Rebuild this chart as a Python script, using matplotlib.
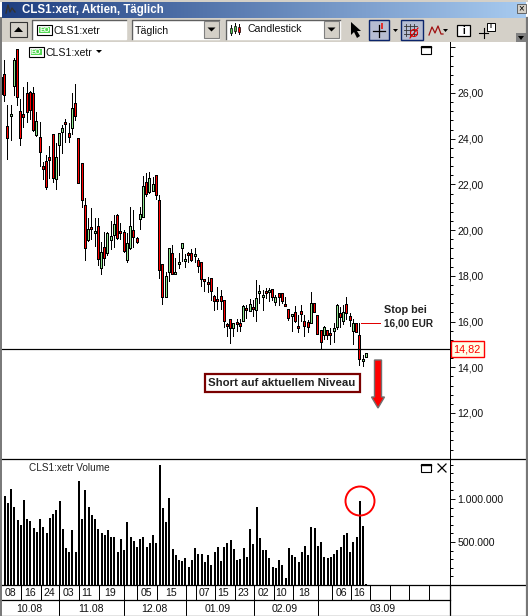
import numpy as np
import matplotlib
matplotlib.use("Agg")
import matplotlib.pyplot as plt
from matplotlib.patches import Rectangle, Circle, Polygon
from matplotlib.ticker import FixedLocator, FuncFormatter

plt.rcParams['font.family'] = ['Liberation Sans', 'DejaVu Sans']

W, H = 528, 616

# daily candles, the first one is only half inside the pane
highs = [26.72, 27.45, 25.48, 25.48, 27.53, 27.93, 25.73, 26.28, 26.50, 26.10, 26.28, 25.19, 24.72, 23.00, 23.29,
         23.68, 24.19, 23.80, 24.24, 24.60, 24.85, 24.68, 25.99, 26.40, 24.02, 22.93, 21.40, 20.52, 20.96, 20.52,
         20.52, 19.50, 19.94, 19.94, 20.38, 20.67, 20.71, 20.30, 20.01, 19.87, 21.03, 20.89, 19.72, 21.03, 22.37,
         22.52, 22.56, 22.34, 22.42, 21.54, 18.51, 18.19, 19.21, 19.35, 18.80, 18.99, 19.43, 18.94, 19.06, 19.18,
         19.21, 18.77, 18.60, 17.85, 17.97, 17.90, 17.17, 17.53, 17.38, 16.93, 15.93, 16.10, 15.93, 16.12, 16.12,
         16.73, 16.73, 16.99, 16.95, 17.82, 17.60, 17.38, 17.46, 17.46, 17.41, 17.17, 17.27, 17.27, 17.09, 16.54,
         16.32, 16.70, 16.29, 16.73, 16.29, 16.07, 17.28, 16.80, 16.28, 15.61, 15.81, 15.64, 15.71, 15.92, 16.77,
         16.62, 16.73, 17.09, 16.36, 16.10, 15.95, 15.92, 14.54, 14.61]
body_tops = [26.72, 26.82, 24.56, 25.08, 27.45, 27.93, 25.22, 25.08, 25.99, 26.06, 25.99, 24.78, 24.06, 22.81, 23.04,
             23.22, 24.19, 23.19, 24.24, 24.46, 24.73, 24.24, 25.33, 25.55, 24.02, 22.93, 21.08, 20.04, 20.11, 19.95,
             20.19, 19.03, 19.25, 19.87, 19.76, 20.26, 20.67, 19.98, 19.94, 19.43, 20.19, 20.01, 19.65, 20.71, 21.91,
             22.12, 22.27, 22.02, 22.40, 21.32, 18.51, 17.99, 19.21, 18.99, 18.16, 18.61, 19.43, 18.73, 18.99, 18.99,
             18.94, 18.68, 18.60, 17.85, 17.72, 17.90, 17.12, 16.98, 17.12, 16.93, 15.88, 16.10, 15.93, 15.97, 15.93,
             16.69, 16.58, 16.76, 16.63, 17.02, 17.34, 17.17, 17.33, 17.37, 17.41, 17.06, 17.27, 17.27, 16.76, 16.54,
             16.32, 16.41, 15.80, 16.45, 16.04, 16.00, 16.80, 16.80, 16.28, 15.61, 15.75, 15.64, 15.49, 15.71, 16.73,
             16.38, 16.44, 16.77, 16.25, 15.95, 15.95, 15.41, 14.38, 14.61]
body_bots = [25.91, 25.89, 23.98, 24.97, 26.28, 25.77, 23.98, 24.92, 25.11, 25.23, 24.35, 24.14, 23.39, 22.61, 21.86,
             23.04, 22.23, 22.20, 23.66, 24.24, 24.62, 24.01, 24.41, 24.97, 22.01, 21.29, 19.17, 19.54, 20.01, 19.85,
             18.70, 18.29, 18.73, 18.96, 19.53, 19.76, 19.62, 19.81, 19.03, 18.63, 19.17, 19.65, 19.43, 20.45, 20.52,
             21.54, 21.61, 21.69, 21.50, 18.23, 17.02, 17.02, 18.11, 18.04, 18.07, 18.49, 19.16, 18.62, 18.89, 18.67,
             18.84, 18.38, 17.82, 17.76, 17.63, 17.28, 16.85, 16.85, 16.85, 15.96, 15.80, 15.66, 15.66, 15.88, 15.78,
             16.00, 16.45, 16.44, 16.52, 16.48, 17.22, 17.01, 17.22, 17.28, 17.02, 16.83, 17.02, 16.87, 16.66, 16.13,
             16.22, 16.00, 15.71, 16.28, 15.75, 15.71, 15.88, 16.39, 15.43, 15.08, 15.39, 15.37, 15.41, 15.53, 15.74,
             16.14, 15.97, 16.32, 16.03, 15.53, 15.49, 14.32, 14.25, 14.39]
lows = [25.91, 25.62, 23.07, 23.92, 25.87, 25.43, 23.68, 24.46, 24.70, 24.82, 24.31, 24.09, 22.78, 22.20, 21.76,
        22.23, 22.05, 21.76, 22.37, 23.33, 23.80, 23.80, 24.17, 24.79, 22.01, 20.99, 18.67, 19.50, 19.57, 19.28,
        18.41, 18.04, 18.41, 18.87, 19.14, 19.21, 19.57, 19.57, 18.99, 18.55, 19.14, 19.21, 19.40, 20.01, 20.52,
        21.47, 21.57, 21.69, 21.32, 17.87, 16.73, 17.02, 17.71, 18.04, 18.04, 18.30, 18.62, 18.36, 18.55, 18.60,
        18.55, 18.11, 17.53, 17.31, 17.24, 16.92, 16.48, 16.51, 16.51, 15.74, 15.34, 15.04, 15.34, 15.56, 15.53,
        16.00, 16.12, 16.41, 16.22, 16.00, 16.77, 16.48, 16.98, 16.87, 16.92, 16.70, 16.66, 16.77, 16.66, 16.04,
        15.56, 15.93, 15.52, 16.00, 15.34, 15.52, 15.88, 16.39, 15.43, 14.79, 15.20, 15.20, 14.98, 15.05, 15.63,
        15.71, 15.85, 16.07, 15.78, 14.98, 15.49, 14.06, 14.03, 14.39]
falling = [1, 1, 1, 0, 0, 1, 1, 1, 1, 1, 1, 0, 1, 1, 1,
           1, 1, 0, 0, 0, 1, 1, 0, 1, 1, 1, 1, 0, 1, 0,
           1, 0, 1, 0, 0, 0, 1, 1, 1, 0, 0, 1, 1, 0, 0,
           1, 0, 0, 1, 1, 1, 0, 0, 1, 0, 0, 0, 0, 1, 1,
           0, 1, 1, 1, 1, 1, 1, 1, 1, 1, 1, 1, 0, 1, 1,
           0, 1, 0, 1, 0, 0, 0, 1, 0, 1, 0, 1, 1, 1, 1,
           0, 1, 1, 1, 1, 1, 0, 1, 1, 1, 0, 1, 1, 0, 0,
           1, 0, 1, 1, 0, 1, 1, 0, 0]

volumes = [1039000, 957000, 1120000, 911000, 756000, 702000, 992000, 771000, 748000, 667000, 620000, 771000,
           678000, 609000, 783000, 829000, 876000, 981000, 655000, 434000, 388000, 643000, 388000, 1213000,
           771000, 1109000, 911000, 818000, 771000, 655000, 609000, 585000, 643000, 562000, 562000, 388000,
           539000, 411000, 736000, 562000, 516000, 446000, 539000, 562000, 446000, 492000, 585000, 492000,
           1399000, 899000, 736000, 1015000, 422000, 353000, 295000, 283000, 318000, 213000, 295000, 434000,
           364000, 364000, 271000, 353000, 236000, 388000, 446000, 283000, 446000, 492000, 527000, 422000,
           295000, 306000, 434000, 329000, 655000, 481000, 911000, 550000, 411000,
           411000, 318000, 213000, 202000, 295000, 236000, 85000, 434000, 353000, 329000, 271000, 388000,
           457000, 353000, 678000, 667000, 457000, 504000, 329000, 318000, 329000, 364000, 411000, 446000,
           585000, 609000, 388000, 504000, 562000, 981000, 690000, 8000]

last_price = 14.82
price_ticks = [12, 14, 16, 18, 20, 22, 24, 26]
volume_ticks = [500000, 1000000]

day_labels = ['08', '16', '24', '03', '11', '19', '05', '15', '07', '15', '23', '02', '10', '18', '06', '16']
day_label_x = [10, 30, 49, 68, 87, 110, 146, 171, 204, 223, 243, 263, 281, 304, 341, 359]
day_lines = [21, 41, 59, 79, 99, 124, 137, 157, 186, 196, 215, 235, 254, 274, 293, 318, 332, 351, 370, 390, 409, 429]
month_labels = ['10.08', '11.08', '12.08', '01.09', '02.09', '03.09']
month_label_x = [29, 91, 154, 218, 285, 383]
month_lines = [59, 124, 186, 254, 318]

x0_px, step_px = 4.6, 3.23
pane_l, pane_r = 2, 450
price_top, price_bot = 42, 459
vol_bot = 585
px_per_eur = 22.857
px_per_share = 43 / 500000
one_px = 0.72  # line width of a single screen pixel at 100 dpi


def pane(top, bottom, ylim):
    ax = fig.add_axes([pane_l / W, 1 - bottom / H, (pane_r - pane_l) / W, (bottom - top) / H])
    ax.set_xlim((pane_l - x0_px) / step_px, (pane_r - x0_px) / step_px)
    ax.set_ylim(*ylim)
    ax.patch.set_alpha(0)
    for side in ['top', 'left', 'bottom']:
        ax.spines[side].set_visible(False)
    ax.spines['right'].set_linewidth(one_px)
    ax.xaxis.set_visible(False)
    ax.yaxis.tick_right()
    ax.tick_params(axis='y', which='major', length=3.6, width=one_px, labelsize=7.6, pad=1.5, colors='#111111')
    ax.tick_params(axis='y', which='minor', length=2.2, width=one_px)
    return ax


def crisp_bars(ax, x, bottom, top, width_px, color, zorder):
    # hard edged columns, rounded to whole pixels like the rest of the screen
    ax.bar(x, np.asarray(top) - np.asarray(bottom), bottom=bottom, width=width_px / step_px, color=color,
           linewidth=0, antialiased=False, snap=True, zorder=zorder)


def eo_tag(ax, x, y):
    ax.add_patch(Rectangle((x, y), 15, 10, fc='white', ec='black', lw=0.8, zorder=5))
    ax.add_patch(Rectangle((x + 2, y + 2), 11, 6, fc='#55D855', ec='none', zorder=6))
    ax.text(x + 7.5, y + 5.2, 'EO', color='white', fontsize=5.2, fontweight='bold', ha='center', va='center', zorder=7)


def sunken(ax, x, y, w, h):
    # white entry field with the usual inset border
    ax.add_patch(Rectangle((x, y), w, h, fc='white', ec='#FFFFFF', lw=1, zorder=2))
    ax.plot([x, x, x + w], [y + h, y, y], color='#606060', lw=1, zorder=3)


def combo_button(ax, x, y, w, h):
    ax.add_patch(Rectangle((x, y), w, h, fc='#D4D0C8', ec='#808080', lw=0.8, zorder=3))
    ax.add_patch(Polygon([(x + w / 2 - 4, y + h / 2 - 2), (x + w / 2 + 4, y + h / 2 - 2), (x + w / 2, y + h / 2 + 2)],
                         fc='black', ec='none', zorder=4))


fig = plt.figure(figsize=(W / 100, H / 100), dpi=100, facecolor='white')

# window frame, title bar and toolbar
bg = fig.add_axes([0, 0, 1, 1])
bg.axis('off')
grad = np.linspace(0, 1, 256).reshape(1, -1, 1)
left_col = np.array([0x1E, 0x3E, 0x80]) / 255
right_col = np.array([0xA8, 0xCB, 0xF0]) / 255
bg.imshow(left_col + grad * (right_col - left_col), extent=(2, 526, 18, 2), aspect='auto', zorder=1)
bg.set_xlim(0, W)
bg.set_ylim(H, 0)
bg.add_patch(Rectangle((0, 0), W, 2, fc='#D4D0C8', ec='none', zorder=1))
bg.add_patch(Rectangle((0, 18), W, 24, fc='#D4D0C8', ec='none', zorder=1))
bg.plot([6, 8, 10, 12, 15], [13, 5, 12, 8, 12], color='#333333', lw=1, zorder=2)
bg.text(22, 9.5, 'CLS1:xetr, Aktien, Täglich', color='white', fontsize=8.3, fontweight='bold', va='center', zorder=2)
bg.add_patch(Rectangle((517, 4), 9, 9, fc='#D4D0C8', ec='#555555', lw=0.6, zorder=2))
bg.text(521.5, 8.5, '×', fontsize=7, ha='center', va='center', zorder=3)

bg.add_patch(Rectangle((10, 22), 17, 15, fc='#D4D0C8', ec='#333333', lw=0.8, zorder=2))
bg.add_patch(Polygon([(14, 32), (23, 32), (18.5, 27)], fc='black', ec='none', zorder=3))
for bx, bw in [(32, 94), (132, 87), (226, 114)]:
    sunken(bg, bx, 20, bw, 19)
combo_button(bg, 204, 21, 15, 17)
combo_button(bg, 324, 21, 15, 17)
eo_tag(bg, 37, 25)
bg.text(53, 30.5, 'CLS1:xetr', fontsize=7.6, va='center', color='#111111', zorder=5)
bg.text(135, 30.5, 'Täglich', fontsize=7.6, va='center', color='#111111', zorder=5)
bg.text(247, 29.5, 'Candlestick', fontsize=7.6, va='center', color='#111111', zorder=5)
for cx, cy, cc in [(231, 30, '#55C855'), (235, 28, '#55C855'), (239, 29, '#FF0000')]:
    bg.plot([cx, cx], [cy - 5, cy + 5], color='black', lw=0.7, zorder=4)
    bg.add_patch(Rectangle((cx - 1, cy - 2.5), 2, 5, fc=cc, ec='black', lw=0.5, zorder=5))

bg.add_patch(Polygon([(351, 22), (351, 35), (354, 32), (357, 38), (360, 36), (357, 31), (361, 31)],
                     fc='black', ec='none', zorder=3))
bg.add_patch(Rectangle((369, 20), 20, 20, fc='#B6BDD2', ec='#0A246A', lw=1, zorder=2))
bg.plot([373, 385], [31, 31], color='black', lw=0.9, zorder=3)
bg.plot([379, 379], [25, 37], color='black', lw=0.9, zorder=3)
bg.add_patch(Rectangle((381, 23), 2, 6, fc='#E03030', ec='none', zorder=3))
bg.add_patch(Polygon([(393, 29), (398, 29), (395.5, 32)], fc='black', ec='none', zorder=3))
bg.add_patch(Rectangle((401, 20), 22, 20, fc='#B6BDD2', ec='#0A246A', lw=1, zorder=2))
for g in [406, 410, 414]:
    bg.plot([g, g], [24, 36], color='#333333', lw=0.6, zorder=3)
    bg.plot([404, 417], [g - 380, g - 380], color='#333333', lw=0.6, zorder=3)
bg.add_patch(Circle((414, 33), 3.5, fc='none', ec='#E00000', lw=0.8, zorder=4))
bg.plot([410, 418], [38, 28], color='#E00000', lw=0.8, zorder=4)
bg.plot([429, 432, 435, 438, 441, 443], [35, 27, 33, 26, 34, 34], color='#A01010', lw=0.9, zorder=3)
bg.add_patch(Polygon([(443, 29), (448, 29), (445.5, 32)], fc='black', ec='none', zorder=3))
bg.add_patch(Rectangle((457, 25), 13, 11, fc='white', ec='black', lw=0.9, zorder=3))
bg.text(463.5, 30.5, 'i', fontsize=7, fontweight='bold', ha='center', va='center', zorder=4)
bg.plot([479, 488], [33, 33], color='black', lw=0.8, zorder=3)
bg.plot([483.5, 483.5], [28, 38], color='black', lw=0.8, zorder=3)
bg.add_patch(Rectangle((487, 23), 8, 8, fc='white', ec='black', lw=0.7, zorder=3))
bg.text(491, 27, 'i', fontsize=5, fontweight='bold', ha='center', va='center', zorder=4)
bg.add_patch(Rectangle((516, 33), 10, 9, fc='#808080', ec='none', zorder=3))
bg.add_patch(Polygon([(518, 36), (524, 36), (521, 40)], fc='black', ec='none', zorder=4))

# price pane: wick, black body three pixels wide, one pixel colour stripe inside
ax_p = pane(price_top, price_bot, (26 - (price_bot - 93) / px_per_eur, 26 + (93 - price_top) / px_per_eur))
x_c = np.arange(len(highs)) - 1
tops = np.array(body_tops)
bots = np.array(body_bots)
mids = (tops + bots) / 2
px = 1.0 / px_per_eur
half_body = np.maximum((tops - bots) / 2, 1.5 * px)
half_fill = np.maximum(half_body - px, 0.5 * px)
colors = ['#FF0000' if f else '#90E890' for f in falling]
crisp_bars(ax_p, x_c, lows, highs, 1, 'black', 2)
crisp_bars(ax_p, x_c, mids - half_body, mids + half_body, 3, 'black', 3)
crisp_bars(ax_p, x_c, mids - half_fill, mids + half_fill, 1, colors, 4)
ax_p.axhline(last_price, color='black', lw=one_px * 1.2, zorder=5)
ax_p.yaxis.set_major_locator(FixedLocator(range(10, 30, 2)))
ax_p.yaxis.set_minor_locator(FixedLocator(np.arange(10, 28.4, 0.4)))
ax_p.yaxis.set_major_formatter(FuncFormatter(
    lambda v, pos: f'{v:.2f}'.replace('.', ',') if int(round(v)) in price_ticks else ''))

# volume pane
ax_v = pane(price_bot, vol_bot, (0, (vol_bot - price_bot) / px_per_share))
crisp_bars(ax_v, np.arange(len(volumes)), np.zeros(len(volumes)), volumes, 2, 'black', 2)
ax_v.yaxis.set_major_locator(FixedLocator(volume_ticks))
ax_v.yaxis.set_minor_locator(FixedLocator(range(0, 1500000, 100000)))
ax_v.yaxis.set_major_formatter(FuncFormatter(lambda v, pos: f'{int(v):,}'.replace(',', '.')))

# date rows, annotations and pane furniture on top of everything
fg = fig.add_axes([0, 0, 1, 1], zorder=10)
fg.set_xlim(0, W)
fg.set_ylim(H, 0)
fg.axis('off')
fg.plot([0, W], [price_bot, price_bot], color='black', lw=0.9)
fg.plot([0, W], [vol_bot, vol_bot], color='black', lw=0.9)
fg.plot([0, pane_r], [600, 600], color='black', lw=0.9)
fg.plot([pane_r, pane_r], [vol_bot, H], color='black', lw=0.9)
for lx in day_lines:
    fg.plot([lx, lx], [vol_bot, 600], color='black', lw=one_px)
for lx in month_lines:
    fg.plot([lx, lx], [600, H], color='black', lw=one_px)
for lab, lx in zip(day_labels, day_label_x):
    fg.text(lx, 593, lab, fontsize=7.6, ha='center', va='center', color='#111111')
for lab, lx in zip(month_labels, month_label_x):
    fg.text(lx, 608.5, lab, fontsize=7.6, ha='center', va='center', color='#111111')

fg.plot([0.5, 0.5], [18, H], color='#777777', lw=1.4)
fg.plot([527, 527], [18, H], color='#777777', lw=1.6)
fg.plot([0, W], [615.5, 615.5], color='#777777', lw=1)

eo_tag(fg, 28.5, 47)
fg.text(45, 52.5, 'CLS1:xetr', fontsize=7.6, va='center', color='#111111')
fg.add_patch(Polygon([(96, 50), (102, 50), (99, 53)], fc='black', ec='none'))
for wy in [46, 464]:
    fg.add_patch(Rectangle((421, wy), 10, 8, fc='white', ec='black', lw=0.8))
    fg.plot([421, 431], [wy + 1.3, wy + 1.3], color='black', lw=1)
fg.plot([438, 446], [464, 472], color='black', lw=0.9)
fg.plot([438, 446], [472, 464], color='black', lw=0.9)
fg.text(29, 468, 'CLS1:xetr Volume', fontsize=7.2, va='center', color='#222222')

fg.text(384, 310, 'Stop bei', fontsize=7.8, fontweight='bold', va='center', color='#222222')
fg.text(384, 323, '16,00 EUR', fontsize=7.2, fontweight='bold', va='center', color='#222222')
fg.plot([361, 380], [323, 323], color='#E00000', lw=one_px)
fg.add_patch(Rectangle((450.5, 341), 33, 16, fc='#FFFFE8', ec='#FF0000', lw=1))
fg.text(467, 349.3, '14,82', color='#FF0000', fontsize=7.8, ha='center', va='center')
fg.add_patch(Rectangle((204.5, 373.5), 155, 18, fc='white', ec='#7A0000', lw=1.6))
fg.text(282, 382.5, 'Short auf aktuellem Niveau', fontsize=8.2, fontweight='bold', ha='center', va='center',
        color='#222222')
arrow = [(374.5, 360), (381.5, 360), (381.5, 397), (384.5, 397), (378, 408), (371.5, 397), (374.5, 397)]
fg.add_patch(Polygon(arrow, fc='#FF0000', ec='#707070', lw=1))
fg.add_patch(Circle((360, 501), 14.5, fc='none', ec='#FF0000', lw=1.4))

fig.savefig('out.png', dpi=100)
